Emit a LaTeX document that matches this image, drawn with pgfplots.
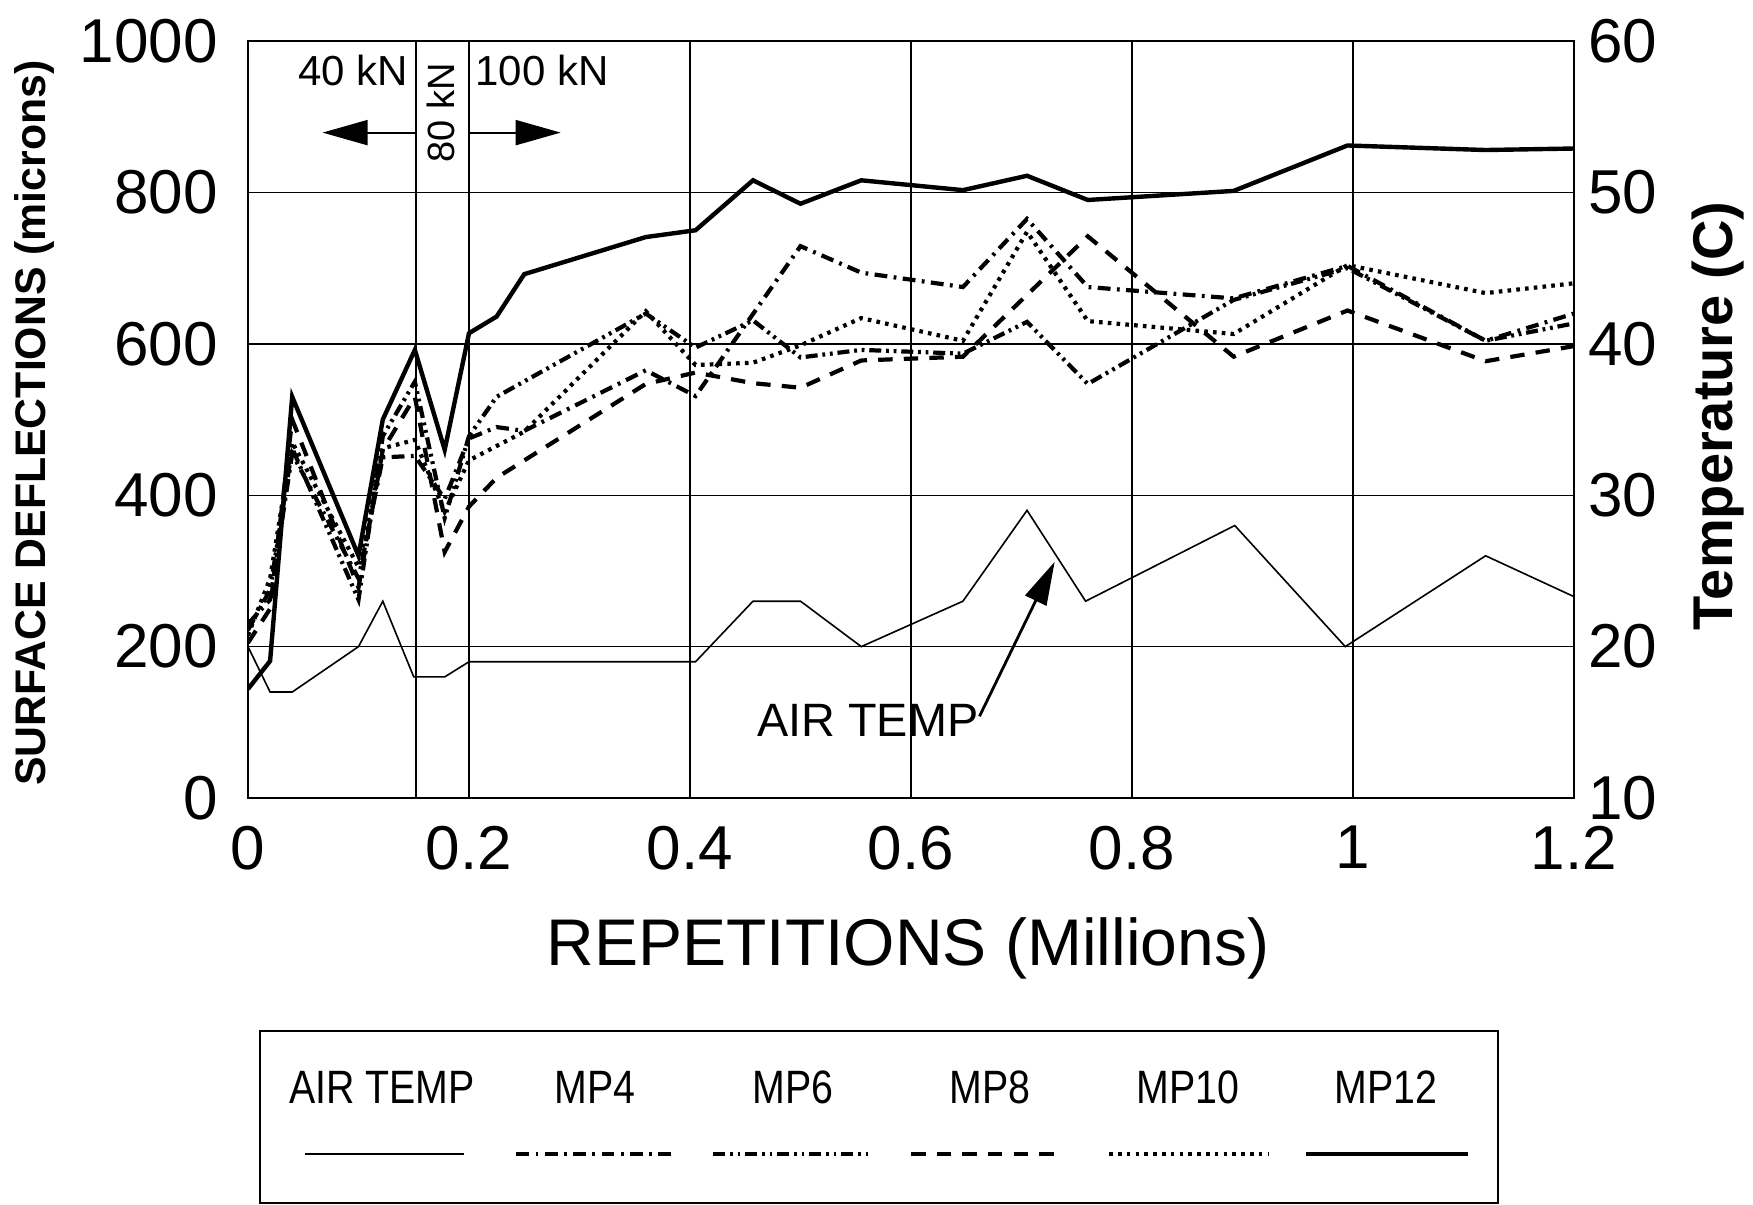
\documentclass[border=0pt]{standalone}
\usepackage{fontspec}
\setmainfont{Liberation Sans}
\usepackage{graphicx}
\usepackage{pgfplots}
\pgfplotsset{compat=1.18}
\usetikzlibrary{arrows.meta}

\tikzset{
  mp4/.style={line width=1.05pt, dash pattern=on 3.2pt off 1.6pt on 0.7pt off 1.6pt},
  mp6/.style={line width=1.05pt, dash pattern=on 3pt off 1.2pt on 0.7pt off 1.2pt on 0.7pt off 1.2pt},
  mp8/.style={line width=1.05pt, dash pattern=on 3.6pt off 2.8pt},
  mp10/.style={line width=1.05pt, dash pattern=on 0.9pt off 1.3pt},
  mp12/.style={line width=1.1pt},
  airtemp/.style={line width=0.4pt},
}
\newcommand{\ticksize}{\fontsize{15.5}{18}\selectfont}
\newcommand{\legtext}[1]{\scalebox{0.84}[1]{\fontsize{11.7}{14}\selectfont #1}}

\begin{document}
\begin{tikzpicture}
\path[use as bounding box] (-62pt,-101.5pt) rectangle (376.25pt,199.5pt);

% deflections (left axis)
\begin{axis}[
  at={(0,0)}, anchor=south west,
  scale only axis, width=331.5pt, height=189.25pt,
  xmin=0, xmax=1.2, ymin=0, ymax=1000,
  xtick={0,0.2,0.4,0.6,0.8,1,1.2},
  ytick={0,200,400,600,800,1000},
  xtick pos=bottom, ytick pos=left,
  major tick length=0pt,
  grid=major,
  major grid style={line width=0.35pt, black},
  axis line style={line width=0.65pt},
  tick label style={font=\ticksize},
  /pgf/number format/assume math mode=true,
  /pgf/number format/1000 sep={},
  yticklabel style={xshift=-4pt},
  xticklabel style={yshift=-3.5pt},
]
% load stages
\draw[line width=0.65pt] (axis cs:0.152,0) -- (axis cs:0.152,1000);
\draw[line width=0.65pt] (axis cs:0.2,0) -- (axis cs:0.2,1000);

\addplot[mp12] coordinates {
 (0,144)(0.02,181)(0.04,530)(0.10,320)(0.122,500)(0.151,592)(0.178,460)(0.2,614)
 (0.225,636)(0.25,692)(0.36,741)(0.405,750)(0.457,816)(0.5,785)(0.555,816)(0.647,803)
 (0.705,822)(0.76,790)(0.892,802)(0.995,862)(1.12,856)(1.2,858)};
\addplot[mp10] coordinates {
 (0,215)(0.02,290)(0.04,470)(0.10,305)(0.122,462)(0.151,473)(0.178,378)(0.2,446)
 (0.25,484)(0.36,643)(0.405,572)(0.457,575)(0.5,598)(0.555,634)(0.647,604)(0.705,748)
 (0.76,630)(0.892,613)(0.995,704)(1.12,667)(1.2,680)};
\addplot[mp4] coordinates {
 (0,230)(0.02,262)(0.04,455)(0.10,290)(0.122,450)(0.151,452)(0.178,395)(0.2,475)
 (0.225,490)(0.25,485)(0.36,565)(0.405,531)(0.5,729)(0.555,694)(0.647,675)(0.705,765)
 (0.76,675)(0.892,660)(0.995,703)(1.12,604)(1.2,640)};
\addplot[mp6] coordinates {
 (0,222)(0.02,275)(0.04,462)(0.10,262)(0.122,478)(0.151,550)(0.178,370)(0.2,478)
 (0.225,530)(0.36,640)(0.405,595)(0.457,631)(0.5,582)(0.555,592)(0.647,587)(0.705,629)
 (0.76,547)(0.892,658)(0.995,700)(1.12,604)(1.2,627)};
\addplot[mp8] coordinates {
 (0,205)(0.02,250)(0.04,500)(0.10,278)(0.122,460)(0.151,530)(0.178,325)(0.2,385)
 (0.225,423)(0.36,547)(0.405,562)(0.457,548)(0.5,542)(0.555,578)(0.647,583)(0.76,742)
 (0.892,583)(0.995,644)(1.12,577)(1.2,597)};

% annotations
\node[font=\fontsize{10.5}{12}\selectfont] at (axis cs:0.095,961) {40 kN};
\node[font=\fontsize{10.5}{12}\selectfont] at (axis cs:0.266,961) {100 kN};
\node[rotate=90, font=\fontsize{9.5}{11}\selectfont] at (axis cs:0.175,905) {80 kN};
\draw[line width=0.5pt, -{Triangle[length=11.25pt,width=6.25pt]}] (axis cs:0.152,879) -- (axis cs:0.0675,879);
\draw[line width=0.5pt, -{Triangle[length=11.25pt,width=6.25pt]}] (axis cs:0.2,879) -- (axis cs:0.283,879);
\node[font=\fontsize{11.7}{14}\selectfont] at (axis cs:0.561,102) {AIR TEMP};
\draw[line width=0.7pt, -{Triangle[length=10.8pt,width=5.8pt]}] (axis cs:0.662,108) -- (axis cs:0.730,312);
\end{axis}

% air temperature (right axis)
\begin{axis}[
  at={(0,0)}, anchor=south west,
  scale only axis, width=331.5pt, height=189.25pt,
  xmin=0, xmax=1.2, ymin=10, ymax=60,
  ytick={10,20,30,40,50,60},
  hide x axis, axis y line*=right,
  major tick length=0pt,
  axis line style={line width=0.65pt},
  tick label style={font=\ticksize},
  /pgf/number format/assume math mode=true,
]
\addplot[airtemp] coordinates {
 (0,20)(0.02,17)(0.04,17)(0.10,20)(0.122,23)(0.15,18)(0.178,18)(0.2,19)(0.405,19)
 (0.457,23)(0.5,23)(0.555,20)(0.647,23)(0.705,29)(0.758,23)(0.893,28)(0.993,20)
 (1.12,26)(1.2,23.3)};
\end{axis}

% axis titles
\node[font=\fontsize{16.5}{19}\selectfont] at (165pt,-37.5pt) {REPETITIONS (Millions)};
\node[rotate=90, font=\fontsize{10.7}{12}\selectfont\bfseries] at (-53.5pt,93.75pt) {SURFACE DEFLECTIONS (microns)};
\node[rotate=90, font=\fontsize{14}{16}\selectfont\bfseries] at (367.5pt,95.5pt) {Temperature (C)};

% key
\draw[line width=0.6pt] (3pt,-101.2pt) rectangle (312.5pt,-58.25pt);
\node at (33.5pt,-72.25pt) {\legtext{AIR TEMP}};
\node at (86.75pt,-72.25pt) {\legtext{MP4}};
\node at (136.25pt,-72.25pt) {\legtext{MP6}};
\node at (185.5pt,-72.25pt) {\legtext{MP8}};
\node at (235pt,-72.25pt) {\legtext{MP10}};
\node at (284.5pt,-72.25pt) {\legtext{MP12}};
\draw[airtemp] (14.25pt,-89pt) -- (54pt,-89pt);
\draw[mp4] (67.1pt,-89pt) -- (105.7pt,-89pt);
\draw[mp6] (116.3pt,-89pt) -- (156pt,-89pt);
\draw[mp8] (165.8pt,-89pt) -- (203pt,-89pt);
\draw[mp10] (215.3pt,-89pt) -- (255.2pt,-89pt);
\draw[mp12] (264.5pt,-89pt) -- (305pt,-89pt);
\end{tikzpicture}
\end{document}
